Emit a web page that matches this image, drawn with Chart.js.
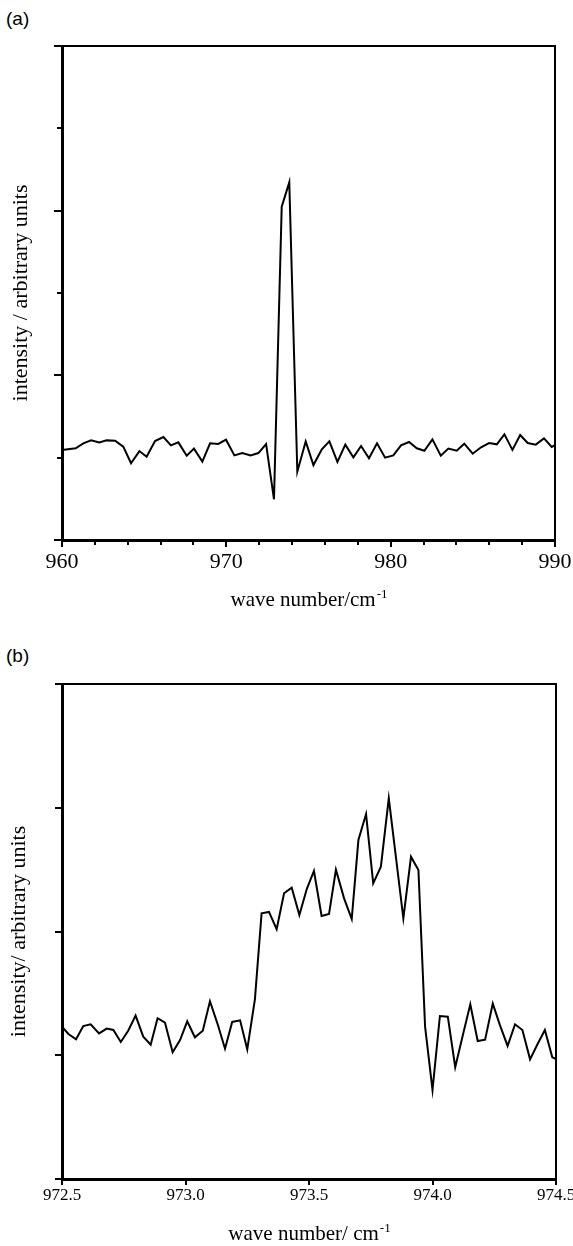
<!DOCTYPE html>
<html>
<head>
<meta charset="utf-8">
<script src="https://cdn.jsdelivr.net/npm/chart.js@4"></script>
<style>
  body { margin: 0; background: #fff; width: 573px; height: 1246px; position: relative; overflow: hidden; }
  canvas { position: absolute; left: 0; }
  .tag { position: absolute; left: 6px; font: 19px 'Liberation Sans', Arial, sans-serif; color: #000; }
</style>
</head>
<body>
<div class="tag" style="top:8px">(a)</div>
<canvas id="chartA" width="573" height="630" style="top:0"></canvas>
<div class="tag" style="top:645px">(b)</div>
<canvas id="chartB" width="573" height="616" style="top:630px"></canvas>
<script>
// panel (a): wide scan
const waveA = [960.0, 960.83, 961.30, 961.77, 962.27, 962.72, 963.23, 963.73, 964.20, 964.71,
  965.15, 965.66, 966.17, 966.63, 967.08, 967.59, 968.03, 968.54, 969.01, 969.51,
  969.98, 970.49, 970.97, 971.48, 971.95, 972.42, 972.90, 973.37, 973.83, 974.32,
  974.83, 975.30, 975.81, 976.27, 976.76, 977.24, 977.73, 978.20, 978.68, 979.17,
  979.66, 980.16, 980.63, 981.12, 981.59, 982.05, 982.54, 983.05, 983.51, 984.02,
  984.48, 984.99, 985.50, 985.99, 986.46, 986.92, 987.41, 987.88, 988.34, 988.83,
  989.33, 989.80, 990.0];
const intensityA = [0.547, 0.557, 0.587, 0.605, 0.593, 0.605, 0.603, 0.567, 0.466, 0.540,
  0.506, 0.601, 0.625, 0.575, 0.593, 0.512, 0.555, 0.476, 0.587, 0.583,
  0.609, 0.514, 0.528, 0.514, 0.528, 0.583, 0.247, 2.024, 2.172, 0.415,
  0.599, 0.455, 0.551, 0.599, 0.474, 0.579, 0.502, 0.571, 0.496, 0.587,
  0.500, 0.514, 0.575, 0.595, 0.557, 0.542, 0.611, 0.512, 0.555, 0.542,
  0.585, 0.524, 0.563, 0.589, 0.581, 0.642, 0.547, 0.638, 0.589, 0.579,
  0.617, 0.565, 0.577];
const minorXA = [962, 964, 966, 968, 972, 974, 976, 978, 982, 984, 986, 988];
const minorYA = [0.5, 1.5, 2.5];

// panel (b): zoom on the band
const waveB = [972.500, 972.526, 972.557, 972.586, 972.616, 972.650, 972.681, 972.708, 972.738, 972.768,
  972.798, 972.829, 972.859, 972.887, 972.917, 972.948, 972.978, 973.007, 973.038, 973.070,
  973.099, 973.129, 973.160, 973.189, 973.221, 973.250, 973.281, 973.308, 973.338, 973.369,
  973.399, 973.430, 973.461, 973.491, 973.520, 973.551, 973.581, 973.609, 973.642, 973.673,
  973.700, 973.731, 973.760, 973.791, 973.823, 973.882, 973.913, 973.943, 973.970, 974.000,
  974.030, 974.062, 974.092, 974.122, 974.153, 974.183, 974.213, 974.244, 974.273, 974.304,
  974.334, 974.364, 974.395, 974.424, 974.455, 974.485, 974.500];
const intensityB = [1.231, 1.172, 1.129, 1.236, 1.250, 1.177, 1.215, 1.204, 1.107, 1.198,
  1.320, 1.150, 1.085, 1.299, 1.263, 1.024, 1.123, 1.274, 1.145, 1.198,
  1.436, 1.258, 1.053, 1.269, 1.282, 1.048, 1.452, 2.147, 2.158, 2.018,
  2.309, 2.354, 2.133, 2.343, 2.489, 2.125, 2.141, 2.499, 2.268, 2.101,
  2.739, 2.949, 2.389, 2.524, 3.076, 2.107, 2.604, 2.497, 1.231, 0.719,
  1.317, 1.312, 0.903, 1.156, 1.412, 1.115, 1.126, 1.417, 1.244, 1.075,
  1.250, 1.204, 0.967, 1.085, 1.204, 0.983, 0.970];

Chart.defaults.font.family = "'Liberation Serif', 'Times New Roman', serif";
Chart.defaults.color = '#000';

// top/right frame, minor ticks and the x title with its superscript
const framePlugin = {
  id: 'frame',
  afterDraw(chart, args, o) {
    const { ctx, chartArea: a, scales } = chart;
    ctx.save();
    ctx.strokeStyle = '#000';
    ctx.lineWidth = 2;
    ctx.beginPath();
    ctx.moveTo(a.left, a.top);
    ctx.lineTo(a.right, a.top);
    ctx.lineTo(a.right, a.bottom + 1);
    ctx.stroke();

    ctx.beginPath();
    (o.minorX || []).forEach(v => {
      const px = Math.round(scales.x.getPixelForValue(v));
      ctx.moveTo(px, a.bottom);
      ctx.lineTo(px, a.bottom + o.minorLen);
    });
    (o.minorY || []).forEach(v => {
      const py = Math.round(scales.y.getPixelForValue(v));
      ctx.moveTo(a.left, py);
      ctx.lineTo(a.left - o.minorLen, py);
    });
    ctx.stroke();

    const size = o.titleSize;
    ctx.fillStyle = '#000';
    ctx.textBaseline = 'alphabetic';
    ctx.textAlign = 'left';
    ctx.font = size + "px 'Liberation Serif', serif";
    const w1 = ctx.measureText(o.title).width;
    ctx.font = Math.round(size * 0.62) + "px 'Liberation Serif', serif";
    const w2 = ctx.measureText(o.sup).width;
    const x0 = (a.left + a.right) / 2 - (w1 + w2) / 2;
    ctx.font = size + "px 'Liberation Serif', serif";
    ctx.fillText(o.title, x0, o.titleY);
    ctx.font = Math.round(size * 0.62) + "px 'Liberation Serif', serif";
    ctx.fillText(o.sup, x0 + w1 + 1, o.titleY - size * 0.38);
    ctx.restore();
  }
};

function makePanel(id, p) {
  const canvas = document.getElementById(id);
  return new Chart(canvas, {
    type: 'line',
    data: {
      datasets: [{
        data: p.x.map((x, i) => ({ x: x, y: p.y[i] })),
        borderColor: '#000',
        borderWidth: 2,
        pointRadius: 0,
        tension: 0,
        fill: false
      }]
    },
    options: {
      responsive: false,
      animation: false,
      layout: { padding: { top: p.top, right: p.right, left: 0, bottom: 0 } },
      plugins: {
        legend: { display: false },
        tooltip: { enabled: false },
        frame: p.frame
      },
      scales: {
        x: {
          type: 'linear',
          min: p.xMin,
          max: p.xMax,
          ticks: {
            stepSize: p.xStep,
            autoSkip: false,
            maxRotation: 0,
            padding: p.xPad,
            font: { size: p.xFont },
            callback: p.xLabel
          },
          grid: { display: true, drawOnChartArea: false, drawTicks: true, tickLength: p.xTick, color: '#000', lineWidth: 2 },
          border: { display: true, width: 3, color: '#000' },
          afterFit: s => { s.height = canvas.height - p.bottom; s.paddingLeft = 0; s.paddingRight = 0; }
        },
        y: {
          min: 0,
          max: p.yMax,
          ticks: { stepSize: 1, display: false },
          grid: { display: true, drawOnChartArea: false, drawTicks: true, tickLength: p.yTick, color: '#000', lineWidth: 2 },
          border: { display: true, width: 3, color: '#000' },
          title: {
            display: true,
            text: p.yTitle,
            font: { size: 22 },
            padding: { top: p.yTitlePad, bottom: 0 }
          },
          afterFit: s => { s.width = 62; s.paddingTop = 0; s.paddingBottom = 0; }
        }
      }
    },
    plugins: [framePlugin]
  });
}

makePanel('chartA', {
  x: waveA, y: intensityA,
  top: 46, right: 18, bottom: 540,
  xMin: 960, xMax: 990, xStep: 10, xPad: 2, xFont: 22, xTick: 7,
  xLabel: v => String(v),
  yMax: 3, yTick: 8,
  yTitle: 'intensity / arbitrary units', yTitlePad: 8,
  frame: { minorX: minorXA, minorY: minorYA, minorLen: 5, title: 'wave number/cm', sup: '-1', titleSize: 21, titleY: 606 }
});

makePanel('chartB', {
  x: waveB, y: intensityB,
  top: 54, right: 17, bottom: 549,
  xMin: 972.5, xMax: 974.5, xStep: 0.5, xPad: 0, xFont: 17, xTick: 6,
  xLabel: v => v.toFixed(1),
  yMax: 4, yTick: 7,
  yTitle: 'intensity/ arbitrary units', yTitlePad: 6,
  frame: { minorX: [], minorY: [], minorLen: 0, title: 'wave number/ cm', sup: '-1', titleSize: 21, titleY: 610 }
});
</script>
</body>
</html>
